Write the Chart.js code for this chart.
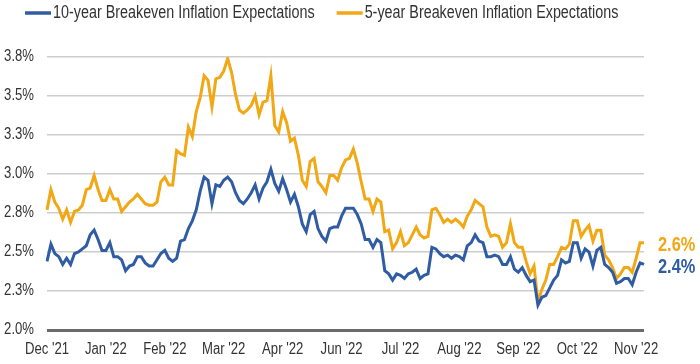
<!DOCTYPE html>
<html>
<head>
<meta charset="utf-8">
<script src="https://cdn.jsdelivr.net/npm/chart.js@4.4.1/dist/chart.umd.min.js"></script>
<style>
  html, body { margin: 0; padding: 0; background: #fff; }
  #chart { display: block; }
</style>
</head>
<body>
<canvas id="chart" width="700" height="364"></canvas>
<script>
// Month tick labels, one every 15 trading points
const tickLabels = ["Dec '21", "Jan '22", "Feb '22", "Mar '22", "Apr '22", "Jun '22",
  "Jul '22", "Aug '22", "Sep '22", "Oct '22", "Nov '22"];
const labelEvery = 15;

// 10-year breakeven inflation expectations (%)
const tenYear = [
  2.44, 2.55, 2.49, 2.47, 2.42, 2.46, 2.42, 2.49, 2.50, 2.52,
  2.54, 2.61, 2.64, 2.58, 2.51, 2.51, 2.56, 2.47, 2.47, 2.45,
  2.38, 2.41, 2.42, 2.47, 2.47, 2.43, 2.41, 2.41, 2.45, 2.49,
  2.51, 2.46, 2.44, 2.46, 2.57, 2.58, 2.65, 2.70, 2.77, 2.89,
  2.98, 2.96, 2.81, 2.93, 2.92, 2.96, 2.98, 2.95, 2.88, 2.83,
  2.81, 2.84, 2.88, 2.93, 2.84, 2.91, 2.95, 3.03, 2.94, 2.89,
  2.97, 2.90, 2.82, 2.87, 2.79, 2.68, 2.63, 2.74, 2.76, 2.65,
  2.60, 2.57, 2.65, 2.66, 2.66, 2.73, 2.78, 2.78, 2.78, 2.74,
  2.68, 2.58, 2.58, 2.53, 2.58, 2.56, 2.38, 2.36, 2.32, 2.36,
  2.35, 2.33, 2.36, 2.37, 2.39, 2.33, 2.35, 2.36, 2.53, 2.52,
  2.49, 2.47, 2.48, 2.46, 2.48, 2.47, 2.45, 2.54, 2.56, 2.61,
  2.57, 2.56, 2.47, 2.47, 2.48, 2.47, 2.42, 2.42, 2.47, 2.39,
  2.37, 2.40, 2.35, 2.31, 2.32, 2.16, 2.21, 2.22, 2.27, 2.32,
  2.35, 2.45, 2.43, 2.44, 2.56, 2.56, 2.46, 2.52, 2.50, 2.41,
  2.51, 2.53, 2.42, 2.40, 2.37, 2.30, 2.31, 2.33, 2.33, 2.29,
  2.37, 2.43, 2.42
];

// 5-year breakeven inflation expectations (%)
const fiveYear = [
  2.77, 2.90, 2.82, 2.78, 2.71, 2.77, 2.69, 2.76, 2.77, 2.80,
  2.90, 2.91, 2.99, 2.90, 2.83, 2.83, 2.90, 2.84, 2.84, 2.76,
  2.79, 2.82, 2.84, 2.87, 2.84, 2.81, 2.80, 2.80, 2.82, 2.95,
  2.98, 2.93, 2.93, 3.15, 3.13, 3.12, 3.30, 3.24, 3.40, 3.49,
  3.63, 3.60, 3.43, 3.61, 3.62, 3.66, 3.74, 3.65, 3.51, 3.41,
  3.39, 3.41, 3.44, 3.50, 3.38, 3.46, 3.47, 3.63, 3.31, 3.27,
  3.40, 3.33, 3.21, 3.23, 3.12, 2.96, 2.92, 3.08, 3.10, 2.95,
  2.92, 2.88, 2.99, 2.99, 2.96, 3.04, 3.09, 3.10, 3.16, 3.07,
  2.95, 2.84, 2.84, 2.76, 2.84, 2.82, 2.63, 2.64, 2.52, 2.56,
  2.63, 2.54, 2.56, 2.61, 2.66, 2.61, 2.59, 2.60, 2.77, 2.78,
  2.74, 2.69, 2.71, 2.69, 2.71, 2.69, 2.66, 2.73, 2.77, 2.83,
  2.81, 2.79, 2.66, 2.60, 2.61, 2.60, 2.53, 2.56, 2.68, 2.56,
  2.53, 2.53, 2.44, 2.36, 2.41, 2.18, 2.26, 2.32, 2.42, 2.42,
  2.47, 2.53, 2.52, 2.55, 2.70, 2.70, 2.60, 2.64, 2.67, 2.57,
  2.64, 2.64, 2.48, 2.45, 2.40, 2.33, 2.36, 2.40, 2.40, 2.37,
  2.46, 2.56, 2.56
];

// Trading-day positions along the x axis
const days = tenYear.map((v, i) => i);

const fontFamily = "'Liberation Sans', Arial, sans-serif";
const textColor = '#333333';
const blue = '#2f5ca3';
const gold = '#f2a714';
const narrow = 0.82; // squeeze text to look like the condensed face of the original

// draw text squeezed horizontally around its anchor
function narrowText(c, text, x, y, align) {
  c.save();
  c.translate(x, y);
  c.scale(narrow, 1);
  c.textAlign = align;
  c.fillText(text, 0, 0);
  c.restore();
}

// Legend with short line swatches along the top
const lineLegend = {
  id: 'lineLegend',
  afterDraw(chart) {
    const c = chart.ctx;
    c.save();
    c.font = '17.5px ' + fontFamily;
    c.textBaseline = 'middle';
    let x = 25;
    chart.data.datasets.forEach(ds => {
      c.strokeStyle = ds.borderColor;
      c.lineWidth = 3.5;
      c.beginPath();
      c.moveTo(x, 13);
      c.lineTo(x + 26, 13);
      c.stroke();
      x += 28;
      c.fillStyle = textColor;
      narrowText(c, ds.label, x, 13, 'left');
      x += c.measureText(ds.label).width * narrow + 22;
    });
    c.restore();
  }
};

// Axis labels drawn from the chart's own scales
const axisLabels = {
  id: 'axisLabels',
  afterDraw(chart) {
    const c = chart.ctx;
    const xs = chart.scales.x;
    const ys = chart.scales.y;
    c.save();
    c.font = '16px ' + fontFamily;
    c.fillStyle = textColor;
    c.textBaseline = 'middle';
    ys.ticks.forEach((t, i) => {
      narrowText(c, t.value.toFixed(1) + '%', 34, ys.getPixelForTick(i), 'right');
    });
    tickLabels.forEach((lab, i) => {
      narrowText(c, lab, xs.getPixelForValue(i * labelEvery), 350, 'center');
    });
    c.restore();
  }
};

// Latest value printed at the right end of each line
const endLabels = {
  id: 'endLabels',
  afterDatasetsDraw(chart) {
    const c = chart.ctx;
    const ys = chart.scales.y;
    c.save();
    c.font = 'bold 20px ' + fontFamily;
    c.textBaseline = 'middle';
    chart.data.datasets.forEach(ds => {
      const last = ds.data[ds.data.length - 1];
      c.fillStyle = ds.borderColor;
      narrowText(c, last.toFixed(1) + '%', chart.chartArea.right + 14, ys.getPixelForValue(last) + 3, 'left');
    });
    c.restore();
  }
};

new Chart(document.getElementById('chart'), {
  type: 'line',
  data: {
    labels: days,
    datasets: [
      {
        label: '10-year Breakeven Inflation Expectations',
        data: tenYear,
        borderColor: blue,
        backgroundColor: blue,
        borderWidth: 3,
        pointRadius: 0,
        tension: 0
      },
      {
        label: '5-year Breakeven Inflation Expectations',
        data: fiveYear,
        borderColor: gold,
        backgroundColor: gold,
        borderWidth: 3,
        pointRadius: 0,
        tension: 0
      }
    ]
  },
  options: {
    responsive: false,
    animation: false,
    layout: { padding: { top: 57, right: 56, bottom: 0, left: 0 } },
    plugins: {
      legend: { display: false },
      tooltip: { enabled: false }
    },
    scales: {
      x: {
        grid: { display: false, drawTicks: false },
        border: { display: false },
        ticks: { display: false },
        afterFit: function(scale) { scale.height = 34; }
      },
      y: {
        min: 2,
        max: 3.75,
        afterFit: function(scale) { scale.width = 47; },
        border: { display: false },
        grid: {
          drawTicks: false,
          color: ctx => ctx.tick.value === 2 ? '#6b6b6b' : '#cdcdcd',
          lineWidth: ctx => ctx.tick.value === 2 ? 3 : 1.5
        },
        ticks: { display: false, stepSize: 0.25 }
      }
    }
  },
  plugins: [lineLegend, axisLabels, endLabels]
});
</script>
</body>
</html>
